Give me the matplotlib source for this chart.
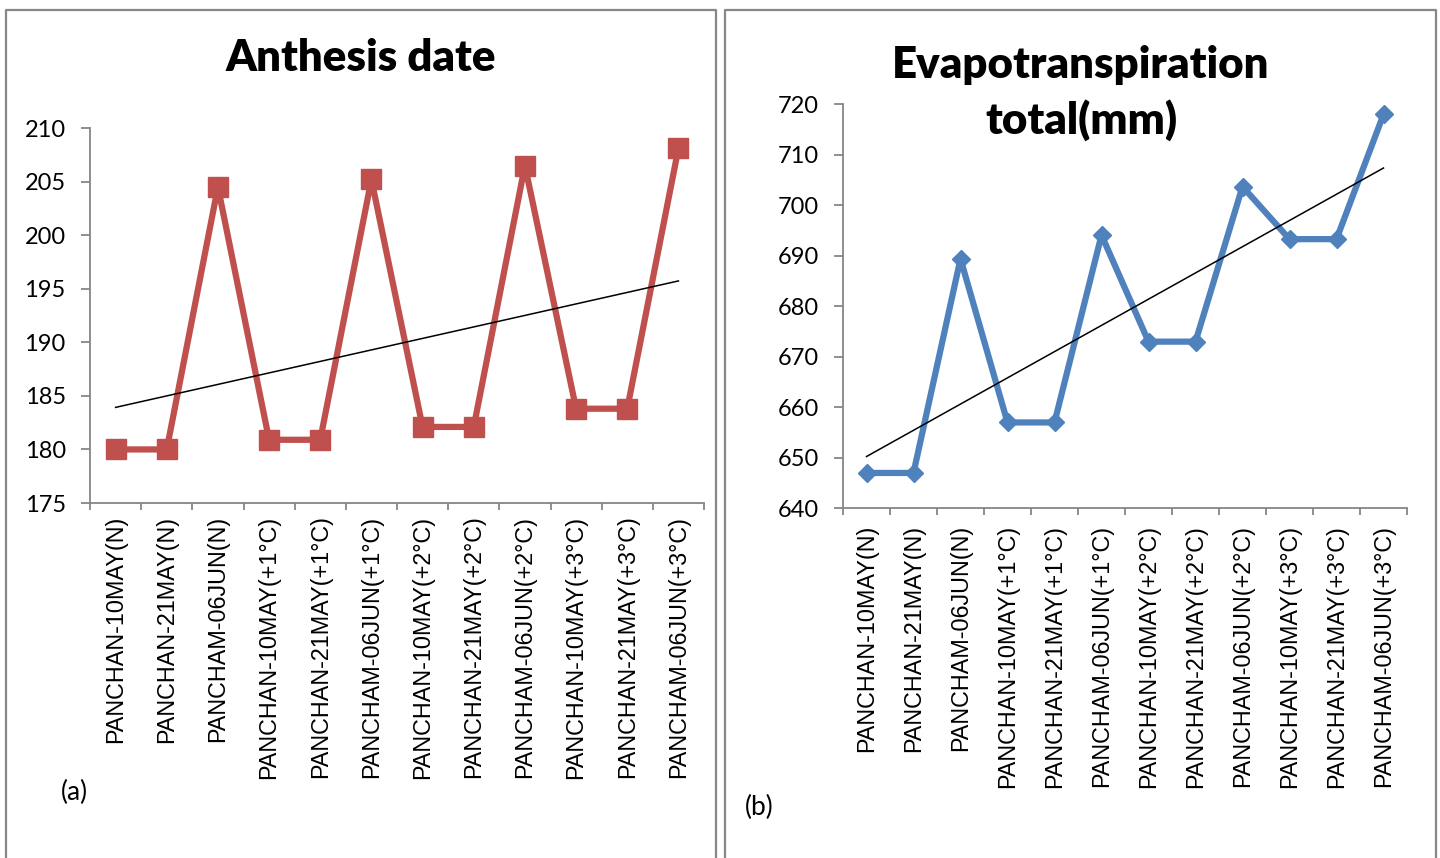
import numpy as np
import matplotlib.pyplot as plt
from matplotlib.lines import Line2D

# sowing date / warming scenario
labels = ['PANCHAN-10MAY(N)', 'PANCHAN-21MAY(N)', 'PANCHAM-06JUN(N)',
          'PANCHAN-10MAY(+1°C)', 'PANCHAN-21MAY(+1°C)', 'PANCHAM-06JUN(+1°C)',
          'PANCHAN-10MAY(+2°C)', 'PANCHAN-21MAY(+2°C)', 'PANCHAM-06JUN(+2°C)',
          'PANCHAN-10MAY(+3°C)', 'PANCHAN-21MAY(+3°C)', 'PANCHAM-06JUN(+3°C)']

anthesis = [180.0, 180.0, 204.5, 180.9, 180.9, 205.2,
            182.1, 182.1, 206.5, 183.8, 183.8, 208.1]

et_total = [647.0, 647.0, 689.4, 657.0, 657.0, 694.1,
            673.0, 673.0, 703.7, 693.3, 693.3, 718.0]

W, H = 1440, 858
fig = plt.figure(figsize=(W / 100, H / 100), dpi=100)
fig.patch.set_facecolor('white')

grey = '#868686'
num_font = 'Lato'
cat_font = 'Liberation Sans'


def px(x0, y0, x1, y1):
    # pixel box (top-left origin) -> figure fraction rect
    return [x0 / W, 1 - y1 / H, (x1 - x0) / W, (y1 - y0) / H]


def panel(ax, vals, color, marker, ms, ylim, step, label_pad):
    xvals = np.arange(1, len(vals) + 1)
    ax.plot(xvals, vals, color=color, lw=4.5, marker=marker, ms=ms,
            markeredgecolor=color, zorder=3)
    # linear trend line
    k, b = np.polyfit(xvals, vals, 1)
    ax.plot(xvals, k * xvals + b, color='black', lw=1.1, zorder=4)

    ax.set_xlim(0.5, len(vals) + 0.5)
    ax.set_ylim(*ylim)
    ax.set_yticks(np.arange(ylim[0], ylim[1] + 0.1, step))
    ax.set_xticks(np.arange(0.5, len(vals) + 1, 1))
    ax.set_xticklabels([])
    ax.set_xticks(xvals, minor=True)
    ax.set_xticklabels(labels, minor=True, rotation=90, va='top', ha='center',
                       fontsize=16.8, family=cat_font)
    ax.tick_params(axis='x', which='minor', length=0, pad=label_pad)
    ax.tick_params(axis='x', which='major', length=5, width=1.3, color=grey)
    ax.tick_params(axis='y', length=6.5, width=1.3, color=grey, pad=11,
                   labelsize=17)
    for t in ax.get_yticklabels():
        t.set_family(num_font)
    for s in ['top', 'right']:
        ax.spines[s].set_visible(False)
    for s in ['left', 'bottom']:
        ax.spines[s].set_color(grey)
        ax.spines[s].set_linewidth(1.3)


##############################################################################
#   ANTHESIS DATE                                                            #
##############################################################################
ax1 = fig.add_axes(px(90, 128, 704, 503))
panel(ax1, anthesis, '#C0504D', 's', 14.5, (175, 210), 5, 9)
fig.text(361 / W, 1 - 58 / H, 'Anthesis date', ha='center', va='center',
         fontsize=31.5, fontweight='heavy', family=num_font)
fig.text(61 / W, 1 - 792 / H, '(a)', ha='left', va='center', fontsize=19,
         family=num_font)

##############################################################################
#   EVAPOTRANSPIRATION                                                       #
##############################################################################
ax2 = fig.add_axes(px(843, 104.3, 1407, 508.3))
panel(ax2, et_total, '#4F81BD', 'D', 9, (640, 720), 10, 12)
fig.text(1081 / W, 1 - 93 / H, 'Evapotranspiration\ntotal(mm)', ha='center',
         va='center', fontsize=31.5, fontweight='heavy', family=num_font,
         linespacing=1.4)
fig.text(745 / W, 1 - 807 / H, '(b)', ha='left', va='center', fontsize=19,
         family=num_font)

# chart frames
for x0, x1 in [(6, 716), (725, 1436)]:
    xs = [x0 / W, x0 / W, x1 / W, x1 / W]
    ys = [0, 1 - 10 / H, 1 - 10 / H, 0]
    fig.add_artist(Line2D(xs, ys, transform=fig.transFigure, color='#878787',
                          lw=1.6))

fig.savefig('out.png', dpi=100)
